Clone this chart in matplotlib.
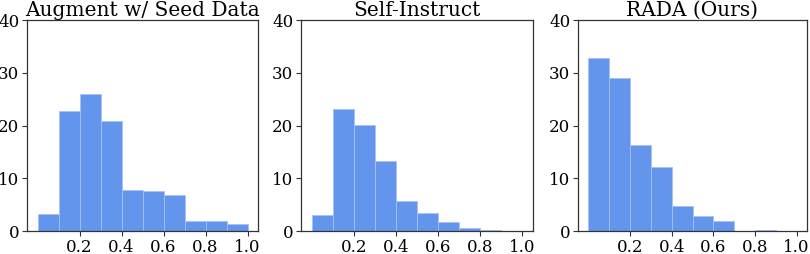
import numpy as np
import matplotlib.pyplot as plt

plt.rcParams['font.family'] = ['DejaVu Serif']

# bin edges (10 bins over 0..1)
bin_edges = np.linspace(0.0, 1.0, 11)

titles = ['Augment w/ Seed Data', 'Self-Instruct', 'RADA (Ours)']

# bar heights
seed_aug = [3.3, 22.7, 26.0, 20.9, 7.8, 7.6, 6.8, 1.9, 1.9, 1.3]
self_instruct = [3.1, 23.2, 20.1, 13.2, 5.6, 3.4, 1.8, 0.5, 0.2, 0.0]
rada = [32.8, 29.0, 16.3, 12.2, 4.7, 2.85, 1.9, 0.0, 0.2, 0.0]

series = [seed_aug, self_instruct, rada]

W, H = 810, 254
fig = plt.figure(figsize=(W / 100, H / 100), dpi=100)

# axes boxes in pixels: (left, right)
boxes = [(27, 258), (301, 533), (578, 807)]
top, bottom = 20, 231

for (l, r), title, vals in zip(boxes, titles, series):
    ax = fig.add_axes([l / W, (H - bottom) / H, (r - l) / W, (bottom - top) / H])
    ax.bar(bin_edges[:-1], vals, width=0.1, align='edge',
           color='#6495ED', edgecolor='#a9c1f3', linewidth=0.6)
    ax.set_xlim(-0.05, 1.05)
    ax.set_ylim(0, 40)
    ax.set_xticks([0.2, 0.4, 0.6, 0.8, 1.0])
    ax.set_yticks([0, 10, 20, 30, 40])
    ax.tick_params(labelsize=12, length=3.5, width=0.8, color='#333333', pad=2)
    for s in ax.spines.values():
        s.set_color('#333333')
        s.set_linewidth(0.9)
    ax.set_title(title, fontsize=14.5, pad=3)

fig.savefig('out.png', dpi=100)
